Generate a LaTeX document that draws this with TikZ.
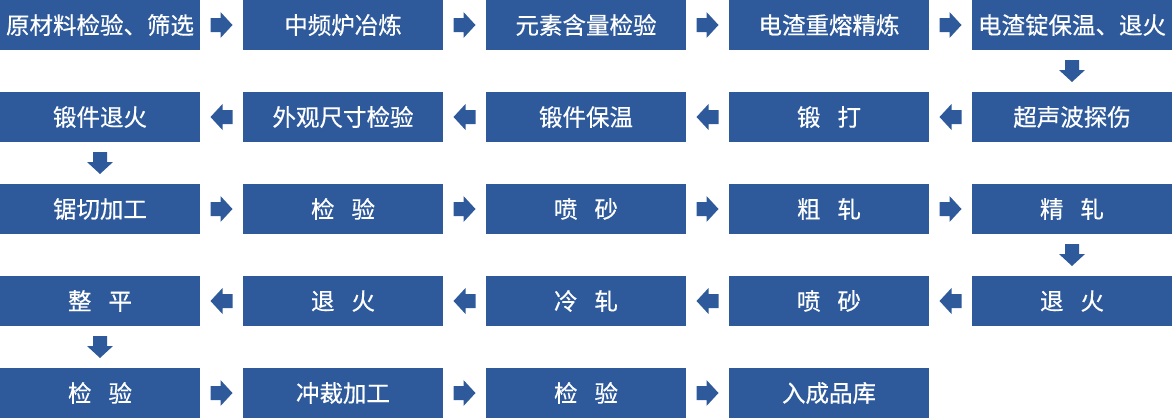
\documentclass[tikz,border=0pt]{standalone}
\usepackage{fontspec}
\newfontfamily\cjk[FakeBold=0.5]{Noto Sans CJK SC}
\usetikzlibrary{calc}
\definecolor{boxblue}{RGB}{46,90,155}
\tikzset{
  stepbox/.style={fill=boxblue, draw=none, minimum width=200pt, minimum height=50pt, inner sep=0pt, text=white, font=\cjk\fontsize{23.5pt}{25pt}\selectfont},
  rarrow/.pic={\fill[boxblue] (-11,-7) -- (-1,-7) -- (-1,-13) -- (11,0) -- (-1,13) -- (-1,7) -- (-11,7) -- cycle;},
}
\newcommand{\gapsp}{\hspace{17pt}}
\begin{document}
\begin{tikzpicture}[x=1pt,y=1pt]
\useasboundingbox (0,0) rectangle (1172,-418);
% row 1
\node[stepbox] (a1) at (100,-25) {原材料检验、筛选};
\node[stepbox] (a2) at (343,-25) {中频炉冶炼};
\node[stepbox] (a3) at (586,-25) {元素含量检验};
\node[stepbox] (a4) at (829,-25) {电渣重熔精炼};
\node[stepbox] (a5) at (1072,-25) {电渣锭保温、退火};
% row 2
\node[stepbox] (b5) at (1072,-117) {超声波探伤};
\node[stepbox] (b4) at (829,-117) {锻\gapsp 打};
\node[stepbox] (b3) at (586,-117) {锻件保温};
\node[stepbox] (b2) at (343,-117) {外观尺寸检验};
\node[stepbox] (b1) at (100,-117) {锻件退火};
% row 3
\node[stepbox] (c1) at (100,-209) {锯切加工};
\node[stepbox] (c2) at (343,-209) {检\gapsp 验};
\node[stepbox] (c3) at (586,-209) {喷\gapsp 砂};
\node[stepbox] (c4) at (829,-209) {粗\gapsp 轧};
\node[stepbox] (c5) at (1072,-209) {精\gapsp 轧};
% row 4
\node[stepbox] (d5) at (1072,-301) {退\gapsp 火};
\node[stepbox] (d4) at (829,-301) {喷\gapsp 砂};
\node[stepbox] (d3) at (586,-301) {冷\gapsp 轧};
\node[stepbox] (d2) at (343,-301) {退\gapsp 火};
\node[stepbox] (d1) at (100,-301) {整\gapsp 平};
% row 5
\node[stepbox] (e1) at (100,-393) {检\gapsp 验};
\node[stepbox] (e2) at (343,-393) {冲裁加工};
\node[stepbox] (e3) at (586,-393) {检\gapsp 验};
\node[stepbox] (e4) at (829,-393) {入成品库};
% arrows row 1
\path ($(a1.east)!0.5!(a2.west)$) pic{rarrow};
\path ($(a2.east)!0.5!(a3.west)$) pic{rarrow};
\path ($(a3.east)!0.5!(a4.west)$) pic{rarrow};
\path ($(a4.east)!0.5!(a5.west)$) pic{rarrow};
\path ($(a5.south)!0.5!(b5.north)$) pic[rotate=-90]{rarrow};
% row 2
\path ($(b5.west)!0.5!(b4.east)$) pic[rotate=180]{rarrow};
\path ($(b4.west)!0.5!(b3.east)$) pic[rotate=180]{rarrow};
\path ($(b3.west)!0.5!(b2.east)$) pic[rotate=180]{rarrow};
\path ($(b2.west)!0.5!(b1.east)$) pic[rotate=180]{rarrow};
\path ($(b1.south)!0.5!(c1.north)$) pic[rotate=-90]{rarrow};
% row 3
\path ($(c1.east)!0.5!(c2.west)$) pic{rarrow};
\path ($(c2.east)!0.5!(c3.west)$) pic{rarrow};
\path ($(c3.east)!0.5!(c4.west)$) pic{rarrow};
\path ($(c4.east)!0.5!(c5.west)$) pic{rarrow};
\path ($(c5.south)!0.5!(d5.north)$) pic[rotate=-90]{rarrow};
% row 4
\path ($(d5.west)!0.5!(d4.east)$) pic[rotate=180]{rarrow};
\path ($(d4.west)!0.5!(d3.east)$) pic[rotate=180]{rarrow};
\path ($(d3.west)!0.5!(d2.east)$) pic[rotate=180]{rarrow};
\path ($(d2.west)!0.5!(d1.east)$) pic[rotate=180]{rarrow};
\path ($(d1.south)!0.5!(e1.north)$) pic[rotate=-90]{rarrow};
% row 5
\path ($(e1.east)!0.5!(e2.west)$) pic{rarrow};
\path ($(e2.east)!0.5!(e3.west)$) pic{rarrow};
\path ($(e3.east)!0.5!(e4.west)$) pic{rarrow};
\end{tikzpicture}
\end{document}
